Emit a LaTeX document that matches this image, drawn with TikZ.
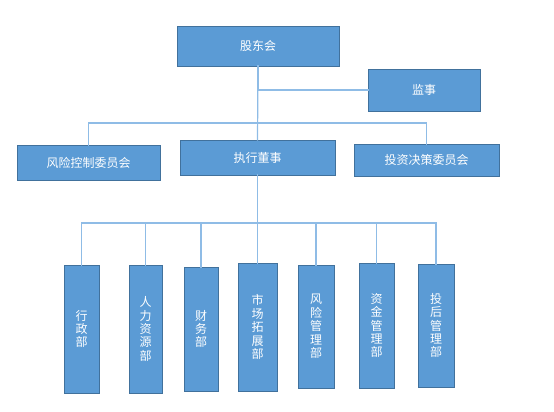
\documentclass[tikz,border=0pt]{standalone}
\usepackage{fontspec}
\newfontfamily\cjk{Noto Sans CJK SC}
\usepackage{xcolor}
\usepackage{tikz}
\usetikzlibrary{positioning, calc}

\definecolor{boxfill}{HTML}{5B9BD5}
\definecolor{boxline}{HTML}{41719C}
\definecolor{linkblue}{HTML}{8FBCE6}

\tikzset{
    unit/.style={draw=boxline, line width=0.8pt, fill=boxfill, text=white,
        font=\cjk\fontsize{12}{13.4}\selectfont, inner sep=0pt, outer sep=0pt,
        align=center},
    link/.style={draw=linkblue, line width=1.2pt}
}

\begin{document}
\begin{tikzpicture}[x=1pt, y=-1pt, line cap=rect, line join=miter]

    \useasboundingbox (0,0) rectangle (554,412);

    % Top level
    \node[unit, minimum width=162pt, minimum height=40pt] (gdh) at (258,46) {股东会};
    \node[unit, minimum width=112pt, minimum height=42pt] (jsh) at (424,90) {监事};

    % Second level
    \node[unit, minimum width=143pt, minimum height=35pt] (fkw) at (88.5,162.5) {风险控制委员会};
    \node[unit, minimum width=155pt, minimum height=35pt] (zxd) at (257.5,157.5) {执行董事};
    \node[unit, minimum width=145pt, minimum height=32pt] (tzw) at (426.5,160) {投资决策委员会};

    % Departments: x / y / height / width / name
    \node[unit, minimum width=35pt, minimum height=128pt] (xzb) at (81.5,329) {行\\政\\部};
    \node[unit, minimum width=33pt, minimum height=128pt] (rlb) at (145.5,329) {人\\力\\资\\源\\部};
    \node[unit, minimum width=34pt, minimum height=124pt] (cwb) at (201,329) {财\\务\\部};
    \node[unit, minimum width=39pt, minimum height=128pt] (scb) at (257.5,327) {市\\场\\拓\\展\\部};
    \node[unit, minimum width=36pt, minimum height=123pt] (fxb) at (316,326.5) {风\\险\\管\\理\\部};
    \node[unit, minimum width=35pt, minimum height=125pt] (zjb) at (376.5,325.5) {资\\金\\管\\理\\部};
    \node[unit, minimum width=36pt, minimum height=123pt] (thb) at (436,325.5) {投\\后\\管\\理\\部};

    % Connectors
    \coordinate (busA) at (257.5,123);
    \coordinate (busB) at (257.5,223);

    \draw[link] (gdh.south) -- (zxd.north);
    \draw[link] (gdh.south) |- (jsh.west);
    \draw[link] (busA) -| (fkw.north);
    \draw[link] (busA) -| (tzw.north);

    \draw[link] (zxd.south) -- (scb.north);
    \foreach \nm in {xzb, rlb, cwb, fxb, zjb, thb}{
        \draw[link] (busB) -| (\nm.north);
    }

\end{tikzpicture}
\end{document}
